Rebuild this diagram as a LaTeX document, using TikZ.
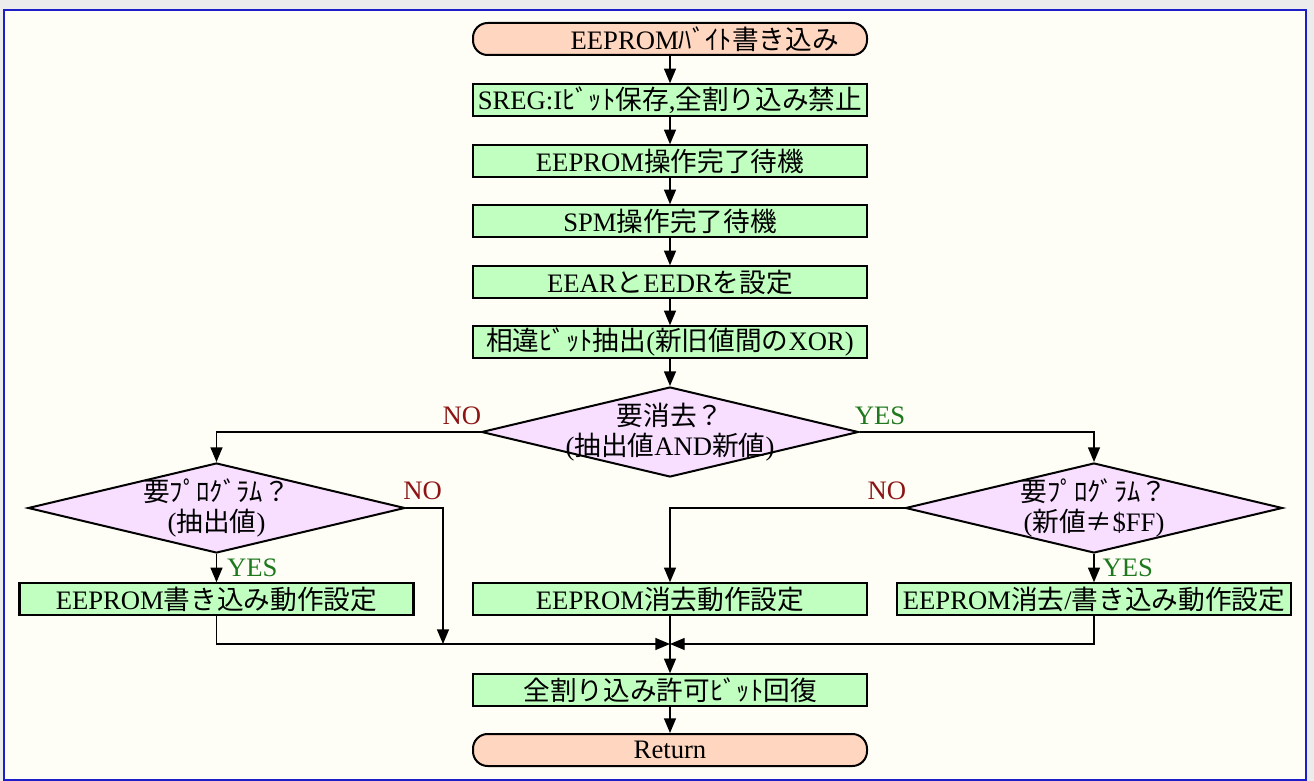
\documentclass[tikz,border=0pt]{standalone}
\usepackage{fontspec}
\setmainfont{Liberation Serif}
\newfontfamily\jp{Noto Sans CJK JP}
\newcommand\J[1]{{\jp #1}}
\usetikzlibrary{arrows.meta,shapes.geometric}
\definecolor{paper}{RGB}{254,254,246}
\definecolor{frameblue}{RGB}{30,30,200}
\definecolor{procfill}{RGB}{192,255,192}
\definecolor{termfill}{RGB}{255,214,192}
\definecolor{decfill}{RGB}{248,222,255}
\definecolor{nocol}{RGB}{140,20,20}
\definecolor{yescol}{RGB}{30,120,30}

\begin{document}
\begin{tikzpicture}[x=0.75pt,y=-0.75pt,>={Triangle[length=11pt,width=9pt]},
  font=\fontsize{20pt}{22pt}\selectfont,
  proc/.style={draw,line width=1.6pt,fill=procfill,minimum width=295.5pt,minimum height=23.5pt,inner sep=0pt},
  term/.style={draw,line width=1.5pt,fill=termfill,rounded corners=11pt,minimum width=295.5pt,minimum height=24pt,inner sep=0pt},
  dec/.style={diamond,draw,line width=1.5pt,fill=decfill,minimum width=282.75pt,minimum height=67.5pt,inner sep=0pt},
  flow/.style={->,line width=1pt},
  nolab/.style={text=nocol,inner sep=0pt},
  yeslab/.style={text=yescol,inner sep=0pt}]
\useasboundingbox (0,0) rectangle (1314,781);
\fill[gray!15] (0,0) rectangle (1314,781);
\filldraw[fill=paper,draw=frameblue,line width=1.5pt] (4,10) rectangle (1306,780);

\node[term] (start) at (670,39) {\hspace*{52pt}EEPROM\J{ﾊﾞｲﾄ書き込み}};
\node[proc] (b1) at (670,100) {SREG:I\J{ﾋﾞｯﾄ保存},\J{全割り込み禁止}};
\node[proc] (b2) at (670,161) {EEPROM\J{操作完了待機}};
\node[proc] (b3) at (670,221) {SPM\J{操作完了待機}};
\node[proc] (b4) at (670,282) {EEAR\J{と}EEDR\J{を設定}};
\node[proc] (b5) at (670,342) {\J{相違ﾋﾞｯﾄ抽出}(\J{新旧値間の}XOR)};
\node[dec,label={[align=center]center:\J{要消去？}\\(\J{抽出値}AND\J{新値})}] (d1) at (670,432) {};
\node[dec,label={[align=center]center:\J{要ﾌﾟﾛｸﾞﾗﾑ？}\\(\J{抽出値})}] (d2) at (216.5,508) {};
\node[dec,label={[align=center]center:\J{要ﾌﾟﾛｸﾞﾗﾑ？}\\(\J{新値≠}\$FF)}] (d3) at (1094,508) {};
\node[proc] (b6) at (216.5,599) {EEPROM\J{書き込み動作設定}};
\node[proc] (b7) at (670,599) {EEPROM\J{消去動作設定}};
\node[proc] (b8) at (1094,599) {EEPROM\J{消去}/\J{書き込み動作設定}};
\node[proc] (rst) at (670,690) {\J{全割り込み許可ﾋﾞｯﾄ回復}};
\node[term] (ret) at (670,750) {Return};
\coordinate (mrg) at (670,644);
\coordinate (skip) at (443,644);

\foreach \a/\b in {start/b1,b1/b2,b2/b3,b3/b4,b4/b5,b5/d1,b7/rst,rst/ret}
  \draw[flow] (\a) -- (\b);
\draw[flow] (d1.west) -| (d2.north);
\draw[flow] (d1.east) -| (d3.north);
\draw[flow] (d2) -- node[yeslab,anchor=west,xshift=7.5pt]{YES} (b6);
\draw[flow] (d3) -- node[yeslab,anchor=west,xshift=6pt]{YES} (b8);
\draw[flow] (d3.west) -| (b7.north);
\draw[flow] (d2.east) -| (skip);
\draw[flow] (b6.south) |- (mrg);
\draw[flow] (b8.south) |- (mrg);
\node[nolab,anchor=south east,xshift=0.75pt,yshift=5.25pt] at (d1.west) {NO};
\node[yeslab,anchor=south west,xshift=-3.75pt,yshift=5.25pt] at (d1.east) {YES};
\node[nolab,anchor=south west,xshift=-2.25pt,yshift=6pt] at (d2.east) {NO};
\node[nolab,anchor=south east,xshift=1.5pt,yshift=6pt] at (d3.west) {NO};
\end{tikzpicture}
\end{document}
